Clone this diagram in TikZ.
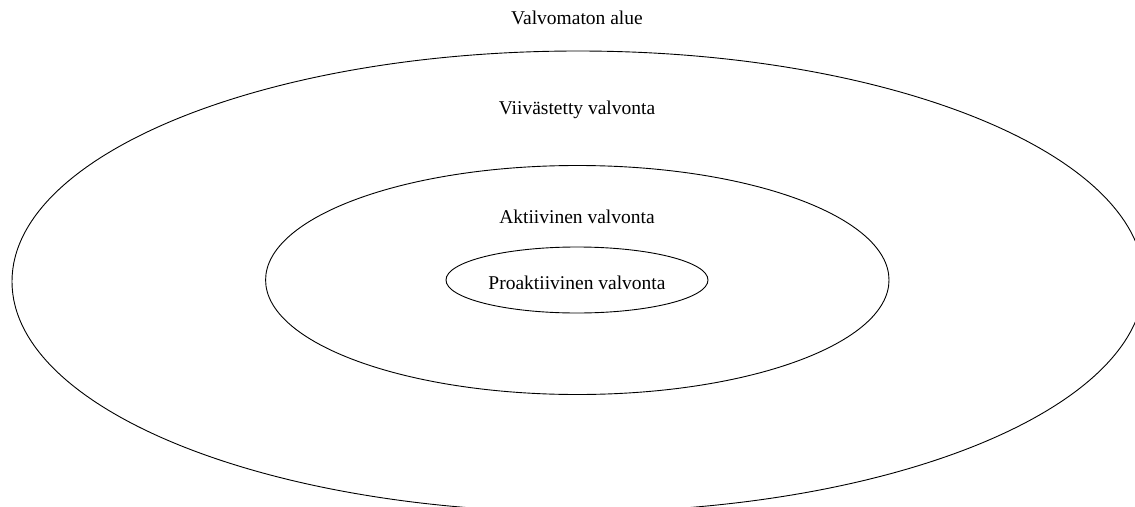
\documentclass[tikz,border=0pt]{standalone}
\usepackage{fontspec}
\setmainfont{Liberation Serif}
\begin{document}
\begin{tikzpicture}[x=1pt,y=-1pt,
  ring/.style={draw=black,line width=0.9pt},
  label/.style={font=\fontsize{19.5}{22}\selectfont,inner sep=0pt,anchor=center}]
\useasboundingbox (0,0) rectangle (1135,506);
\begin{scope}
\clip (0,0) rectangle (1135,506);
% nested monitoring zones
\draw[ring] (578,281.5) ellipse [x radius=566, y radius=230.5];
\draw[ring] (577.3,280) ellipse [x radius=311.7, y radius=114.5];
\draw[ring] (577,280) ellipse [x radius=131, y radius=33];
\end{scope}
\node[label] (outside) at (577,18) {Valvomaton alue};
\node[label] (delayed) at (577,110) {Viivästetty valvonta};
\node[label] (active) at (577,217) {Aktiivinen valvonta};
\node[label] (proactive) at (577,283) {Proaktiivinen valvonta};
\end{tikzpicture}
\end{document}
